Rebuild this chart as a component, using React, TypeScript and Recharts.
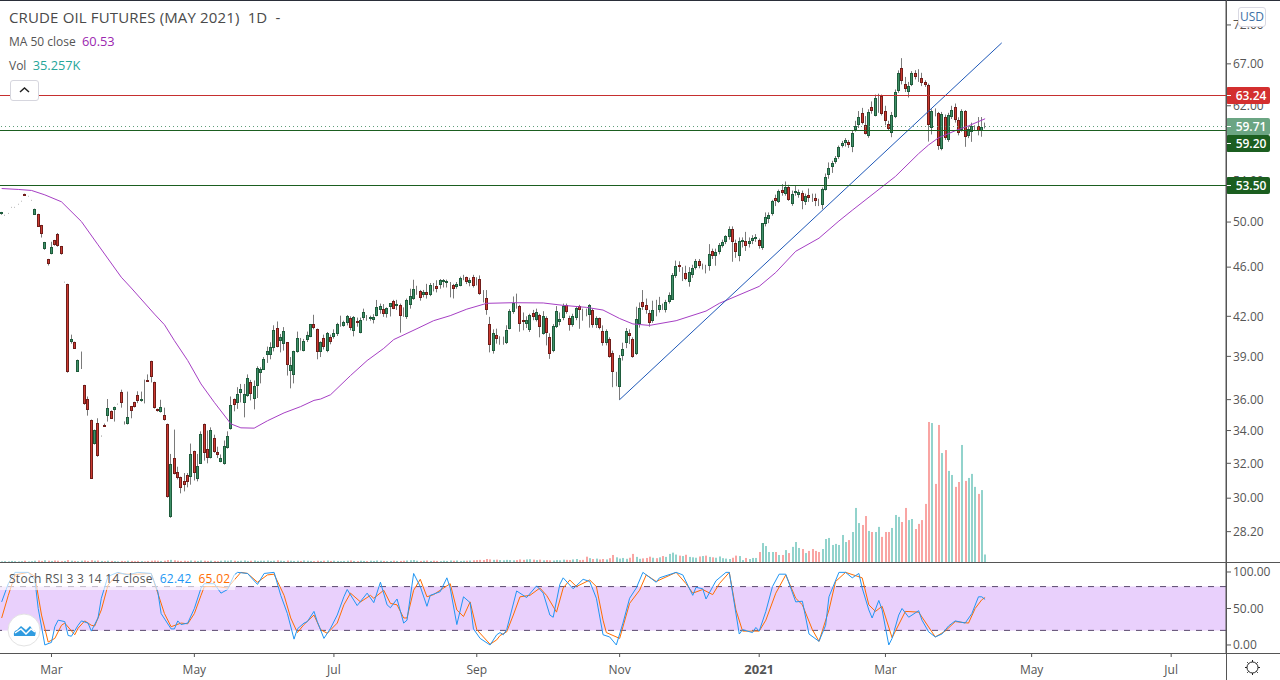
import React from "react";
import { ComposedChart, Bar, Line, XAxis, YAxis, ReferenceLine, ReferenceArea } from "recharts";

const FONT = '"Open Sans", "Noto Sans", sans-serif';
const BAR_SLOTS = 369;
const PRICE_DOMAIN = [26.66, 75.4];

// open, high, low, close
const candles: number[][] = [
[50.70,50.95,50.68,50.93],[50.62,50.67,50.61,50.66],[50.81,50.85,50.80,50.84],[51.38,51.42,51.37,51.41],[51.38,51.42,51.37,51.41],
[51.67,51.71,51.66,51.70],[51.96,52.0,51.95,51.99],[52.68,52.70,52.48,52.49],[52.44,52.48,52.43,52.47],[52.05,52.09,52.04,52.08],
[50.70,51.26,50.68,51.24],[50.76,50.78,49.57,49.59],[49.72,49.74,48.59,48.86],[47.53,48.2,47.5,48.18],[46.69,46.71,46.14,46.23],
[47.17,48.21,47.1,47.76],[48.36,48.38,47.86,47.88],[48.89,49.0,47.77,47.79],[47.82,47.84,47.07,47.09],[44.73,44.77,44.72,44.76],
[44.59,44.61,37.84,37.86],[40.03,40.6,39.93,40.28],[40.06,40.08,39.56,39.58],[37.93,38.77,37.9,38.75],[38.15,39.35,38.1,38.19],
[36.99,37.0,35.66,35.68],[36.04,36.21,34.95,35.29],[34.68,34.7,31.1,31.12],[33.15,34.06,33.13,34.04],[34.48,34.78,32.39,32.41],
[33.64,33.68,33.63,33.67],[34.38,34.44,34.26,34.28],[34.91,36.04,34.57,35.45],[35.27,35.29,34.76,34.78],[35.30,35.54,34.57,35.52],
[35.69,35.73,35.68,35.72],[36.54,36.67,35.47,35.82],[34.56,34.58,34.38,34.54],[34.4,36.54,34.38,34.87],[35.56,35.58,34.78,35.23],
[35.84,35.86,35.48,35.5],[36.33,36.56,35.77,35.95],[35.88,36.54,35.86,36.04],[35.93,37.36,35.75,35.91],[37.36,37.72,37.22,37.24],
[38.67,38.69,37.17,37.52],[37.2,37.22,35.41,35.43],[35.39,35.41,35.21,35.23],[35.17,35.99,35.15,35.52],[35.0,35.47,34.63,34.65],
[34.42,34.44,30.03,30.05],[28.95,32.56,28.93,31.96],[32.33,34.06,31.35,31.37],[31.49,31.8,31.06,31.12],[31.2,31.22,30.27,30.55],
[30.97,31.43,30.38,30.72],[31.34,31.43,30.61,30.95],[31.23,33.19,30.76,32.56],[32.74,32.76,31.0,31.43],[31.12,32.56,30.95,31.85],
[32.0,33.95,31.98,33.81],[34.42,34.44,32.16,32.6],[32.88,34.0,32.0,32.31],[32.31,34.2,32.29,34.04],[33.55,33.74,32.63,32.72],
[32.69,33.0,32.31,32.52],[32.12,32.53,32.06,32.33],[31.94,33.38,31.92,33.05],[32.9,33.95,32.88,33.66],[34.08,36.21,34.06,35.66],
[36.04,36.08,35.23,35.62],[35.82,36.84,35.39,36.39],[36.49,37.06,35.82,36.73],[35.82,37.06,34.84,36.39],[36.21,37.72,36.19,37.47],
[37.2,37.34,35.95,36.36],[36.01,37.3,35.36,36.92],[36.92,38.29,36.11,38.17],[37.79,38.22,37.1,38.07],[38.07,38.95,38.05,38.82],
[39.07,39.71,38.53,39.39],[39.07,40.03,38.79,39.66],[39.66,41.31,39.36,40.98],[41.13,41.6,39.66,39.73],[40.13,40.65,39.29,40.43],
[39.91,41.17,39.42,40.9],[40.03,40.05,37.64,38.36],[37.93,38.95,36.76,38.38],[37.7,39.41,37.1,39.39],[39.32,40.83,39.27,40.35],
[39.65,40.35,39.43,39.58],[39.43,40.28,39.36,40.16],[40.16,40.83,40.05,40.55],[40.43,41.41,40.41,41.38],[41.41,42.12,41.0,41.13],
[41.04,41.06,38.79,39.32],[39.36,40.1,38.95,40.08],[40.35,40.6,39.5,39.66],[39.36,40.8,39.3,40.69],[40.45,40.6,39.88,40.1],
[40.45,41.0,40.3,40.75],[40.66,41.5,40.5,41.41],[41.45,42.05,41.2,41.56],[41.29,41.66,41.2,41.56],[41.45,42.1,41.3,42.02],
[41.86,42.0,40.93,41.13],[40.9,42.02,40.47,41.94],[41.66,41.9,41.2,41.53],[40.75,41.9,40.7,41.71],[41.9,42.6,41.7,42.33],
[42.03,42.1,41.66,42.01],[41.75,42.05,41.66,41.94],[41.75,42.17,41.45,41.96],[42.07,43.29,42.0,42.75],[42.49,43.0,42.2,42.81],
[42.56,42.96,41.96,42.14],[42.14,42.7,41.9,42.64],[42.7,43.05,41.99,43.05],[43.23,43.3,42.56,42.62],[42.81,43.3,42.5,42.96],
[42.89,43.0,40.75,41.99],[42.39,42.7,41.96,42.37],[41.96,43.4,41.8,43.29],[42.86,44.2,42.6,43.61],[43.33,44.94,43.3,44.14],
[43.98,44.44,43.7,44.09],[44.01,44.1,43.23,43.45],[43.66,44.1,43.5,43.93],[43.93,44.6,43.4,43.66],[43.7,44.67,43.6,44.5],
[44.37,44.67,43.98,44.26],[44.42,44.9,43.9,44.14],[44.47,45.0,44.2,44.92],[44.75,45.0,44.3,44.92],[44.67,44.95,44.3,44.83],
[44.66,44.75,43.5,44.68],[44.47,44.6,43.41,44.14],[44.34,44.75,44.2,44.58],[44.47,45.2,44.4,45.12],[45.07,45.35,44.9,45.15],
[45.15,45.2,44.58,44.75],[44.64,45.1,44.4,44.92],[45.15,45.35,44.3,44.39],[44.83,45.15,44.47,44.75],[45.0,45.3,43.7,43.77],
[43.82,44.09,43.09,43.77],[43.45,44.09,42.12,42.49],[41.41,41.96,39.29,39.81],[39.39,41.0,39.2,40.75],[40.55,41.05,39.93,40.28],
[40.05,40.48,39.85,40.16],[40.02,40.45,39.85,40.09],[40.02,41.31,39.9,40.98],[41.04,42.56,41.0,42.41],[42.33,43.57,42.2,43.02],
[43.02,43.8,42.6,42.94],[42.81,42.9,40.82,41.41],[41.71,42.3,40.93,41.53],[41.41,42.0,41.1,41.71],[40.93,42.2,40.8,42.09],
[42.22,42.5,41.7,41.9],[41.71,42.6,41.6,42.33],[42.09,42.2,40.4,41.13],[40.66,42.4,40.6,42.02],[41.86,42.0,39.8,40.69],
[40.43,40.7,38.82,39.2],[39.39,41.4,39.3,41.25],[41.17,42.8,41.1,42.41],[41.53,42.3,41.3,41.79],[41.86,43.0,41.7,42.83],
[42.89,43.0,42.2,42.33],[41.86,42.05,40.9,41.29],[41.29,42.2,41.2,42.02],[41.83,42.8,41.7,42.62],[42.81,42.9,41.04,42.49],
[42.41,42.6,41.66,42.33],[42.33,42.6,42.0,42.22],[42.09,42.96,41.13,42.89],[42.49,42.6,41.13,41.29],[41.29,42.0,41.1,41.86],
[41.86,41.9,41.0,41.13],[40.9,41.3,39.78,40.02],[40.0,41.0,39.8,40.9],[40.28,40.4,38.9,38.99],[39.24,39.42,36.84,37.86],
[37.75,37.9,36.9,37.77],[36.84,39.1,35.98,38.88],[38.99,40.0,38.7,39.53],[40.02,41.1,39.6,40.9],[40.69,41.0,39.9,40.47],
[40.28,40.4,38.9,38.99],[39.2,42.75,39.1,41.79],[41.41,43.09,41.13,42.64],[43.15,44.09,42.5,42.75],[42.89,43.4,42.2,42.46],
[42.25,42.5,41.2,41.45],[41.6,43.23,41.5,42.49],[42.67,43.3,42.0,42.56],[42.46,43.54,42.3,42.89],[42.75,43.0,42.5,42.67],
[42.46,43.3,42.3,43.12],[43.12,43.9,43.0,43.68],[43.33,45.5,43.3,45.35],[45.23,46.56,45.1,46.09],[46.18,46.5,45.6,45.97],
[45.63,46.0,44.83,45.75],[45.5,46.12,44.9,44.97],[44.72,46.0,44.37,45.55],[45.32,46.2,45.1,45.93],[45.89,46.7,45.8,46.52],
[46.52,46.7,45.9,46.12],[46.05,46.3,45.8,46.07],[46.01,46.2,45.47,45.99],[46.06,48.0,45.7,47.13],[47.4,47.6,46.7,46.94],
[46.94,47.6,46.12,47.3],[47.28,48.1,47.1,47.92],[47.82,48.4,47.7,48.18],[48.15,48.8,48.0,48.71],[48.59,49.6,48.4,49.35],
[49.35,49.6,46.46,48.15],[48.11,48.4,46.8,47.28],[46.94,48.6,46.5,48.26],[48.15,48.6,47.7,48.35],[48.26,49.1,47.4,47.82],
[47.97,48.6,47.7,48.26],[48.26,48.8,48.0,48.53],[48.47,48.9,48.2,48.61],[48.35,48.5,47.6,47.82],[47.61,49.9,47.5,49.9],
[49.81,50.9,49.6,50.45],[50.3,50.9,49.9,50.64],[50.7,52.1,50.6,51.98],[52.27,52.6,51.5,51.98],[51.88,53.1,51.8,52.96],
[53.06,53.64,52.5,52.76],[52.68,53.9,52.5,53.35],[53.38,53.57,52.0,52.14],[51.69,53.0,51.53,52.68],[52.76,53.5,52.5,52.96],
[52.57,53.1,52.3,52.86],[52.76,53.0,51.2,51.95],[51.91,52.7,51.6,52.46],[52.57,53.2,51.9,52.27],[52.47,52.7,51.9,52.45],
[52.27,52.7,51.5,51.98],[51.80,52.2,51.5,51.78],[51.6,53.3,51.2,53.14],[53.05,54.7,53.0,54.37],[54.58,55.83,54.17,55.25],
[55.42,56.0,54.76,55.79],[55.93,56.5,55.7,56.31],[56.41,57.6,56.2,57.48],[57.6,58.1,57.4,57.9],[57.9,58.4,57.5,58.2],
[58.0,58.2,57.35,57.67],[57.48,59.2,56.9,59.0],[59.27,60.3,59.1,59.74],[59.85,61.4,59.5,60.72],[61.18,61.76,59.9,60.07],
[59.85,60.83,58.8,58.88],[58.66,61.6,58.44,61.31],[61.82,62.5,61.1,61.31],[60.87,63.3,60.8,62.88],[62.88,63.4,61.2,62.98],
[63.09,63.3,60.9,61.07],[61.43,62.0,59.8,60.29],[59.93,60.3,59.2,59.38],[58.99,61.3,58.5,60.95],[60.76,63.9,60.6,63.62],
[63.74,66.2,63.5,65.89],[66.5,67.71,64.5,64.86],[64.57,65.4,63.6,64.02],[63.62,64.8,62.96,64.33],[64.45,66.1,64.3,65.89],
[65.89,66.22,65.1,65.41],[65.5,66.34,64.8,65.33],[65.3,65.9,64.3,64.7],[64.81,65.0,64.2,64.45],[64.45,64.6,58.03,59.85],
[59.49,61.6,58.8,61.43],[61.56,61.7,60.8,61.52],[61.18,61.3,57.15,57.58],[57.25,61.3,57.1,61.07],[60.72,61.0,58.2,58.44],
[58.23,61.2,58.0,60.95],[60.79,62.0,60.5,61.54],[61.86,62.26,60.1,60.4],[60.4,60.7,58.7,59.0],[59.33,61.6,59.1,61.43],
[61.43,61.5,57.47,58.55],[58.66,59.7,58.4,59.38],[59.1,60.1,58.0,59.74],[59.44,59.8,59.2,59.48],[59.74,60.72,58.7,59.2],
[59.14,60.72,58.55,59.62],[59.60,60.1,59.45,59.71],
];

// volume per bar, in thousands
const volumes: number[] = [
3,4,3,5,4,3,4,6,3,4,6,7,5,8,6,5,7,6,4,5,
9,6,5,4,6,7,5,8,6,7,5,4,6,5,4,3,5,4,6,5,
4,5,4,3,5,6,7,6,5,6,9,10,8,6,5,6,5,7,6,5,
7,6,5,6,5,4,6,7,6,8,6,5,6,7,5,6,7,5,6,6,
7,5,6,8,6,5,7,6,5,6,5,7,6,5,4,6,5,6,7,5,
6,5,4,5,6,7,5,4,6,5,4,6,5,7,6,5,4,5,6,5,
5,6,7,8,9,6,5,6,7,5,6,5,4,6,5,7,6,7,5,6,
6,7,8,9,10,9,14,12,10,11,9,8,10,9,8,9,12,10,12,13,
11,9,11,8,9,8,7,9,8,11,10,9,12,14,9,10,25,18,14,16,
12,14,12,18,33,22,16,19,15,20,38,24,15,17,19,25,20,18,22,28,
24,38,44,35,30,28,34,24,22,20,26,28,30,24,22,20,26,18,16,14,20,30,28,
9,19,14,19,19,47,89,75,47,47,47,33,33,56,42,71,94,66,61,42,
52,61,52,47,61,108,113,80,85,80,127,94,103,141,254,183,174,216,146,141,
141,165,118,141,141,160,221,212,188,254,197,202,155,179,197,273,658,653,367,
644,512,526,428,409,353,376,550,381,395,414,353,320,338,35.257,
];

// [bar number, value] readings of the 50-day average
const maPoints: number[][] = [
[1,53.2],[6,53.11],[10,53.01],[14,52.58],[19,51.91],[25,50.05],[30,47.94],[37,45.15],[40,44.26],[47,42.17],
[50,41.35],[53,40.15],[57,38.7],[61,37.06],[65,35.82],[70,34.42],[73,34.17],[77,34.15],[81,34.62],[86,35.13],
[91,35.54],[95,35.95],[97,36.04],[100,36.33],[106,37.64],[111,38.7],[116,39.58],[119,40.23],[126,41.05],[131,41.66],
[136,42.05],[141,42.56],[147,43.02],[155,43.07],[164,43.05],[170,42.86],[177,42.7],[182,42.49],[187,41.83],[191,41.41],
[196,41.3],[204,41.66],[213,42.41],[217,43.02],[229,44.39],[234,45.55],[240,47.37],[247,48.53],[253,50.1],[257,51.1],
[270,54.4],[277,56.75],[280,57.67],[283,58.44],[288,59.2],[292,59.74],[297,60.53],
];

const stochKPoints: number[][] = [
[1,59],[3,84],[5,99.5],[9,99.5],[11,89],[12,50],[14,0],[16,3.6],[17,25],[18,34],[20,32],[21,13],[22,12],[24,27],[25,33],[27,30],[28,19],[30,37],[31,64],[33,94],
[36,99.5],[39,96],[42,99.5],[46,98],[48,73],[49,43],[52,22],[53,22],[54,33],[55,28],[57,30],[59,50],[61,78],[62,84],[63,84],[65,84],[67,71],[69,76],[71,96],[72,99.5],
[75,98],[78,83],[80,98],[83,99.5],[85,68],[87,43],[89,8],[90,22],[92,30],[93,32],[95,46],[96,32],[98,9],[100,23],[102,41],[104,66],[105,76],[108,54],[111,71],[113,58],
[115,86],[117,55],[118,51],[120,63],[122,30],[123,34],[125,98],[127,80],[129,53],[130,68],[133,73],[135,92],[136,78],[138,28],[140,66],[142,58],[143,22],[145,9],[148,0],[150,14],
[151,17],[152,14],[153,21],[156,74],[159,65],[162,81],[164,71],[166,41],[167,38],[169,83],[170,92],[173,77],[176,90],[178,87],[180,64],[182,14],[184,11],[186,0],[188,30],[190,64],
[192,78],[194,99.5],[198,86],[199,92],[204,99.5],[206,96],[209,68],[210,79],[212,77],[213,63],[216,88],[219,99.5],[220,99.5],[223,15],[224,21],[227,17],[228,24],[229,19],[231,46],[233,80],
[235,97],[237,97],[240,59],[242,60],[244,15],[247,5],[249,27],[250,66],[253,99.5],[255,99.5],[257,92],[259,98],[260,78],[262,48],[263,37],[265,61],[266,48],[268,0],[269,9],[271,41],
[272,50],[274,38],[277,47],[278,34],[280,18],[282,11],[284,15],[286,26],[288,33],[291,30],[293,43],[295,66],[296,66],[297,62.42],
];

const stochDPoints: number[][] = [
[1,37],[3,68],[5,96],[9,99.5],[11,94],[13,41],[15,4],[17,9],[19,27],[20,30],[23,14],[24,23],[26,33],[28,27],[29,26],[31,48],[33,82],[36,98],[39,97],[42,97],
[46,98],[48,71],[50,43],[52,25],[55,30],[57,29],[59,43],[61,68],[62,80],[66,80],[69,78],[71,89],[73,99.5],[75,98],[78,86],[81,96],[83,97],[86,68],[88,37],[90,17],
[92,28],[95,41],[97,21],[99,16],[102,30],[104,55],[106,71],[109,59],[112,68],[113,64],[116,75],[118,57],[120,55],[122,37],[123,37],[125,75],[127,90],[129,66],[131,69],[134,78],
[136,84],[138,48],[140,39],[142,59],[144,21],[148,1],[150,7],[151,13],[153,18],[155,41],[157,66],[160,68],[163,78],[165,68],[168,45],[170,78],[172,89],[174,80],[178,89],[180,80],
[182,34],[183,17],[187,9],[190,57],[193,75],[195,96],[198,87],[204,99.5],[207,84],[209,71],[212,76],[215,69],[217,84],[220,99.5],[222,48],[224,19],[229,19],[231,34],[234,71],[237,96],
[240,64],[242,55],[245,21],[247,5],[250,48],[252,87],[255,99.5],[260,92],[262,55],[264,46],[266,53],[269,10],[273,46],[277,45],[282,11],[285,19],[288,32],[292,30],[294,50],[296,62],[297,65.02],
];

const priceTicks = [72, 67, 62, 54, 50, 46, 42, 39, 36, 34, 32, 30, 28.2];
const stochTicks = [0, 50, 100];
const timeTickBars = [16, 59, 101, 144, 187, 229, 267, 311, 353];
const timeTickLabels = ["Mar", "May", "Jul", "Sep", "Nov", "2021", "Mar", "May", "Jul"];

const resistanceLevel = 63.24;
const lastPrice = 59.71;
const upperSupportLevel = 59.2;
const lowerSupportLevel = 53.5;
const trendLine = [
  { x: 187, y: 36.0 },
  { x: 302, y: 69.65 },
];

const lookup = (points: number[][]) => new Map(points.map(([b, v]) => [b, v] as [number, number]));
const maByBar = lookup(maPoints);
const kByBar = lookup(stochKPoints);
const dByBar = lookup(stochDPoints);

const rows = Array.from({ length: BAR_SLOTS }, (_, idx) => {
  const bar = idx + 1;
  const c = candles[idx];
  return {
    bar,
    open: c ? c[0] : null,
    high: c ? c[1] : null,
    low: c ? c[2] : null,
    close: c ? c[3] : null,
    volume: volumes[idx] ?? null,
    wick: c ? [c[2], c[1]] : null,
    body: c ? [Math.min(c[0], c[3]), Math.max(c[0], c[3])] : null,
    ma: maByBar.get(bar) ?? null,
    k: kByBar.get(bar) ?? null,
    d: dByBar.get(bar) ?? null,
  };
});

const isUp = (p: any) => p.close >= p.open;

const WickShape = (p: any) => {
  if (!p.payload || p.payload.open == null) return null;
  return <rect x={Math.round(p.x)} y={p.y} width={1} height={p.height} fill="#7a7a7a" />;
};
const BodyShape = (p: any) => {
  if (!p.payload || p.payload.open == null) return null;
  const up = isUp(p.payload);
  return (
    <rect
      x={Math.round(p.x) + 0.5}
      y={Math.round(p.y) + 0.5}
      width={2}
      height={Math.max(Math.round(p.height) - 1, 0)}
      fill={up ? "#3f9068" : "#cc3a30"}
      stroke={up ? "#1f5c3c" : "#701d1a"}
      strokeWidth={1}
    />
  );
};
const VolumeShape = (p: any) => {
  if (!p.payload || p.payload.volume == null) return null;
  return (
    <rect
      x={Math.round(p.x)}
      y={p.y}
      width={2}
      height={p.height}
      fill={isUp(p.payload) ? "#92d3cc" : "#f9a5a3"}
    />
  );
};

const CrispLevel = (p: any) => {
  const y = Math.floor(p.y1) + 0.5;
  return <line x1={p.x1} x2={p.x2} y1={y} y2={y} stroke={p.stroke} strokeWidth={1} strokeDasharray={p.strokeDasharray} />;
};

const PriceTag = (p: any) => {
  const y = Math.floor(p.viewBox.y) + 0.5 + (p.shift || 0);
  return (
    <g>
      <rect x={1226} y={y - 8.5} width={44} height={17} rx={2} fill={p.fill} />
      <line x1={1226} x2={1231} y1={y} y2={y} stroke="#ffffff" />
      <text x={1251} y={y + 4.5} fontFamily={FONT} fontSize={12} fontWeight={600} fill="#ffffff" textAnchor="middle">
        {p.text}
      </text>
    </g>
  );
};

const TimeTick = (p: any) => {
  const label = timeTickLabels[timeTickBars.indexOf(p.payload.value)];
  const strong = label === "2021";
  return (
    <text
      x={p.x}
      y={p.y + 15}
      textAnchor="middle"
      fontFamily={FONT}
      fontSize={strong ? 13 : 12}
      fontWeight={strong ? 700 : 400}
      fill="#555"
    >
      {label}
    </text>
  );
};

const rule = (s: React.CSSProperties): React.CSSProperties => ({ position: "absolute", background: "#555", ...s });
const textAt = (s: React.CSSProperties): React.CSSProperties => ({
  position: "absolute",
  fontFamily: FONT,
  whiteSpace: "pre",
  lineHeight: "18px",
  color: "#555",
  ...s,
});

export default function App() {
  return (
    <div style={{ position: "absolute", left: 0, top: 0, width: 1280, height: 680, overflow: "hidden", background: "#fff" }}>
      <div style={{ position: "absolute", left: 0, top: 0 }}>
        <ComposedChart width={1280} height={562} data={rows} margin={{ top: 0, right: 0, bottom: 0, left: 0 }}>
          <XAxis xAxisId="line" dataKey="bar" type="category" scale="band" hide />
          <XAxis xAxisId="wick" dataKey="bar" type="category" scale="band" hide />
          <XAxis xAxisId="body" dataKey="bar" type="category" scale="band" hide />
          <XAxis xAxisId="vol" dataKey="bar" type="category" scale="band" hide />
          <YAxis
            yAxisId="price"
            orientation="right"
            width={54}
            scale="log"
            domain={PRICE_DOMAIN}
            ticks={priceTicks}
            interval={0}
            allowDataOverflow
            tickFormatter={(v: number) => v.toFixed(2)}
            tick={{ fontFamily: FONT, fontSize: 12, fill: "#555" }}
            tickLine={{ stroke: "#555" }}
            tickSize={5}
            axisLine={{ stroke: "#555" }}
          />
          <YAxis yAxisId="vol" hide domain={[0, 2641]} allowDataOverflow />
          <Bar xAxisId="vol" yAxisId="vol" dataKey="volume" barSize={2} shape={VolumeShape} isAnimationActive={false} />
          <Bar xAxisId="wick" yAxisId="price" dataKey="wick" barSize={1} shape={WickShape} isAnimationActive={false} />
          <Bar xAxisId="body" yAxisId="price" dataKey="body" barSize={3} shape={BodyShape} isAnimationActive={false} />
          <Line
            xAxisId="line"
            yAxisId="price"
            dataKey="ma"
            type="linear"
            connectNulls
            dot={false}
            stroke="#a63fc4"
            strokeWidth={1}
            isAnimationActive={false}
          />
        </ComposedChart>
      </div>

      {/* levels and their price tags lie above the axis labels */}
      <div style={{ position: "absolute", left: 0, top: 0 }}>
        <ComposedChart width={1280} height={562} data={rows} margin={{ top: 0, right: 0, bottom: 0, left: 0 }}>
          <XAxis xAxisId="line" dataKey="bar" type="category" scale="band" hide />
          <YAxis
            yAxisId="price"
            orientation="right"
            width={54}
            scale="log"
            domain={PRICE_DOMAIN}
            ticks={[]}
            tick={false}
            tickLine={false}
            axisLine={false}
            allowDataOverflow
          />
          <ReferenceLine xAxisId="line" yAxisId="price" segment={trendLine} stroke="#1e58b8" strokeWidth={1} ifOverflow="visible" />
          <ReferenceLine xAxisId="line" yAxisId="price" y={lastPrice} stroke="#5f9e7a" strokeDasharray="1 3" shape={CrispLevel}
            label={<PriceTag text="59.71" fill="#6ba583" />} />
          <ReferenceLine xAxisId="line" yAxisId="price" y={resistanceLevel} stroke="#c62f2f" shape={CrispLevel}
            label={<PriceTag text="63.24" fill="#d32f2f" />} />
          <ReferenceLine xAxisId="line" yAxisId="price" y={upperSupportLevel} stroke="#1b5e20" shape={CrispLevel}
            label={<PriceTag text="59.20" fill="#1b5e20" shift={13} />} />
          <ReferenceLine xAxisId="line" yAxisId="price" y={lowerSupportLevel} stroke="#1b5e20" shape={CrispLevel}
            label={<PriceTag text="53.50" fill="#1b5e20" />} />
        </ComposedChart>
      </div>

      <div style={{ position: "absolute", left: 0, top: 562 }}>
        <ComposedChart width={1280} height={118} data={rows} margin={{ top: 0, right: 0, bottom: 0, left: 0 }}>
          <XAxis
            dataKey="bar"
            type="category"
            scale="band"
            height={27}
            ticks={timeTickBars}
            interval={0}
            tick={<TimeTick />}
            tickSize={4}
            tickLine={{ stroke: "#555" }}
            axisLine={false}
          />
          <YAxis
            orientation="right"
            width={54}
            domain={[-11, 113.7]}
            ticks={stochTicks}
            interval={0}
            allowDataOverflow
            tickFormatter={(v: number) => v.toFixed(2)}
            tick={{ fontFamily: FONT, fontSize: 12, fill: "#555" }}
            tickLine={{ stroke: "#555" }}
            tickSize={5}
            axisLine={{ stroke: "#555" }}
          />
          <ReferenceArea y1={20} y2={80} fill="#e9d0fc" fillOpacity={1} stroke="none" />
          <ReferenceLine y={80} stroke="#5b4a6e" strokeDasharray="6 6" />
          <ReferenceLine y={20} stroke="#5b4a6e" strokeDasharray="6 6" />
          <Line dataKey="d" type="linear" connectNulls dot={false} stroke="#ff6d00" strokeWidth={1} isAnimationActive={false} />
          <Line dataKey="k" type="linear" connectNulls dot={false} stroke="#2196f3" strokeWidth={1} isAnimationActive={false} />
        </ComposedChart>
      </div>

      {/* frame */}
      <div style={rule({ left: 0, top: 0, width: 1280, height: 1, background: "#2a2e39" })} />
      <div style={rule({ left: 0, top: 562, width: 1280, height: 1 })} />
      <div style={rule({ left: 0, top: 653, width: 1280, height: 1 })} />
      <div style={rule({ left: 1226, top: 0, width: 1, height: 680 })} />

      {/* header */}
      <div style={textAt({ left: 9, top: 8, fontSize: 15, letterSpacing: 0.15, color: "#4a4a4a" })}>CRUDE OIL FUTURES (MAY 2021)  1D  -</div>
      <div style={textAt({ left: 9, top: 32, fontSize: 12 })}>
        MA 50 close  <span style={{ color: "#9c27b0", fontSize: 12.8 }}>60.53</span>
      </div>
      <div style={textAt({ left: 9, top: 56, fontSize: 12 })}>
        Vol  <span style={{ color: "#26a69a", fontSize: 12.8 }}>35.257K</span>
      </div>
      <div style={{ position: "absolute", left: 9.5, top: 79.5, width: 27, height: 19, background: "#fff", border: "1px solid #d6d6de", borderRadius: 3 }}>
        <svg width={27} height={19}>
          <path d="M9 11 L13.5 7 L18 11" fill="none" stroke="#222" strokeWidth={1.5} />
        </svg>
      </div>

      {/* stochastic legend */}
      <div style={{ position: "absolute", left: 0, top: 571, width: 235, height: 19, background: "rgba(255,255,255,0.62)" }} />
      <div style={textAt({ left: 9, top: 570, fontSize: 12, letterSpacing: 0.28 })}>
        Stoch RSI 3 3 14 14 close  <span style={{ color: "#2196f3" }}>62.42</span>  <span style={{ color: "#ff6d00" }}>65.02</span>
      </div>

      {/* logo */}
      <svg style={{ position: "absolute", left: 7, top: 613 }} width={34} height={34}>
        <circle cx={17} cy={17} r={16} fill="#fff" stroke="#e3e3e3" />
        <path d="M7 23 Q6 18 10 17 L14 13 L19 17 L23 13 L26 17 Q30 18 28 23 Z" fill="#2f9be0" />
        <path d="M8 20 L14 16 L19 21 L24 16 L28 19" fill="none" stroke="#fff" strokeWidth={1.5} />
      </svg>

      {/* currency button */}
      <div style={textAt({ left: 1238, top: 7, width: 26, height: 18, fontSize: 12, textAlign: "center", background: "#fff", border: "1px solid #d9d9e3", borderRadius: 3, color: "#3d6fa5" })}>USD</div>

      {/* settings gear */}
      <svg style={{ position: "absolute", left: 1244, top: 659 }} width={17} height={17}>
        <circle cx={8.5} cy={8.5} r={5.5} fill="none" stroke="#222" strokeWidth={1} />
        <path d="M8.5 1V3 M8.5 14V16 M1 8.5H3 M14 8.5H16 M3.2 3.2L4.6 4.6 M12.4 12.4L13.8 13.8 M3.2 13.8L4.6 12.4 M12.4 4.6L13.8 3.2" stroke="#222" strokeWidth={1} />
      </svg>
    </div>
  );
}
